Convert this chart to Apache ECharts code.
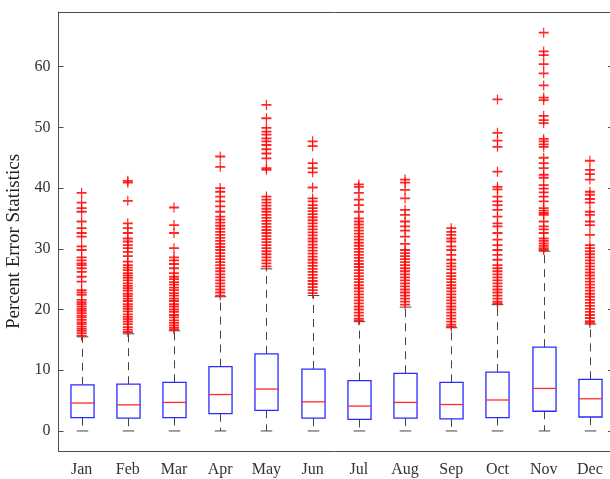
<!DOCTYPE html>
<html>
<head>
<meta charset="utf-8">
<script src="https://cdn.jsdelivr.net/npm/echarts@6/dist/echarts.min.js"></script>
<style>
html,body{margin:0;padding:0;background:#fff;}
#chart{width:610px;height:479px;}
</style>
</head>
<body>
<div id="chart"></div>
<script>
const months = ['Jan','Feb','Mar','Apr','May','Jun','Jul','Aug','Sep','Oct','Nov','Dec'];
const yTicks = [0, 10, 20, 30, 40, 50, 60];

// box statistics per month
const lowerWhisker = [0, 0, 0, 0, 0, 0, 0, 0, 0, 0, 0, 0];
const q1Values     = [2.2, 2.1, 2.2, 2.85, 3.4, 2.1, 1.9, 2.1, 2.0, 2.2, 3.25, 2.3];
const medianValues = [4.6, 4.3, 4.7, 6.0, 6.9, 4.8, 4.1, 4.7, 4.35, 5.1, 7.0, 5.3];
const q3Values     = [7.6, 7.7, 8.0, 10.6, 12.7, 10.2, 8.3, 9.5, 8.0, 9.7, 13.8, 8.5];
const upperWhisker = [15.5, 16.0, 16.5, 22.1, 26.7, 22.3, 18.0, 20.4, 17.0, 20.8, 29.6, 17.6];

// outliers per month
const outJan = [39.2, 37.6, 36.7, 36.1, 34.5, 33.4, 32.6, 32.0, 30.4, 29.8, 28.6, 28.1, 27.6, 27.3, 26.8, 26.2, 25.4, 24.6, 23.2, 22.8, 22.4, 21.6, 21.2, 20.9, 20.5, 20.1, 19.8, 19.4, 19.0, 18.7, 18.3, 17.9, 17.6, 17.2, 16.8, 16.5, 16.1, 15.7];
const outFeb = [41.2, 40.9, 37.9, 34.2, 33.4, 32.6, 31.7, 31.2, 30.6, 30.1, 29.5, 28.8, 27.9, 27.3, 26.9, 26.5, 26.0, 25.6, 25.2, 24.8, 24.3, 23.9, 23.5, 23.1, 22.6, 22.2, 21.8, 21.4, 20.9, 20.5, 20.1, 19.7, 19.2, 18.8, 18.4, 18.0, 17.6, 17.1, 16.7, 16.3];
const outMar = [36.8, 33.9, 32.6, 30.1, 28.6, 28.1, 27.5, 26.8, 26.0, 25.4, 25.0, 24.5, 24.1, 23.6, 23.2, 22.7, 22.3, 21.8, 21.4, 20.9, 20.5, 20.0, 19.6, 19.1, 18.7, 18.2, 17.8, 17.4, 17.0, 16.7];
const outApr = [45.2, 43.5, 40.0, 39.4, 38.6, 37.8, 37.0, 36.1, 35.3, 34.8, 34.3, 33.8, 33.3, 32.8, 32.3, 31.8, 31.3, 30.8, 30.3, 29.8, 29.3, 28.8, 28.3, 27.8, 27.3, 26.8, 26.3, 25.8, 25.3, 24.8, 24.3, 23.8, 23.3, 22.8, 22.3];
const outMay = [53.7, 51.5, 49.9, 49.3, 48.8, 48.2, 47.7, 47.1, 46.4, 45.7, 44.9, 43.3, 43.0, 38.6, 38.1, 37.6, 37.1, 36.6, 36.1, 35.6, 35.1, 34.6, 34.1, 33.6, 33.1, 32.6, 32.1, 31.6, 31.1, 30.6, 30.1, 29.6, 29.1, 28.6, 28.1, 27.6, 27.1];
const outJun = [47.7, 46.9, 44.1, 43.3, 42.6, 40.1, 38.3, 37.8, 37.2, 36.7, 36.2, 35.7, 35.2, 34.7, 34.2, 33.7, 33.2, 32.7, 32.2, 31.7, 31.2, 30.7, 30.2, 29.7, 29.2, 28.7, 28.2, 27.7, 27.2, 26.7, 26.2, 25.7, 25.2, 24.7, 24.2, 23.7, 23.2, 22.7];
const outJul = [40.6, 40.2, 39.2, 38.1, 37.2, 36.1, 35.0, 34.5, 34.0, 33.5, 33.0, 32.5, 32.0, 31.5, 31.0, 30.5, 30.0, 29.5, 29.0, 28.5, 28.0, 27.5, 27.0, 26.5, 26.0, 25.5, 25.0, 24.5, 24.0, 23.5, 23.0, 22.5, 22.0, 21.5, 21.0, 20.5, 20.0, 19.5, 19.0, 18.5, 18.2];
const outAug = [41.4, 40.9, 39.7, 38.3, 36.4, 35.6, 34.5, 33.7, 33.0, 32.0, 30.8, 29.8, 29.3, 28.8, 28.3, 27.8, 27.3, 26.8, 26.3, 25.8, 25.3, 24.8, 24.3, 23.8, 23.3, 22.8, 22.3, 21.8, 21.3, 20.8];
const outSep = [33.4, 32.8, 32.3, 31.7, 31.2, 30.4, 29.8, 29.0, 28.2, 27.6, 27.1, 26.6, 26.0, 25.5, 25.0, 24.5, 24.0, 23.5, 23.0, 22.5, 22.0, 21.5, 21.0, 20.5, 20.0, 19.5, 19.0, 18.5, 18.0, 17.5, 17.2];
const outOct = [54.6, 49.1, 47.8, 46.8, 42.7, 40.2, 39.8, 38.6, 37.8, 37.2, 36.4, 35.3, 34.2, 33.7, 32.6, 31.5, 30.6, 29.8, 29.0, 28.2, 27.3, 26.8, 26.3, 25.8, 25.3, 24.8, 24.3, 23.8, 23.3, 22.8, 22.3, 21.8, 21.3, 21.0];
const outNov = [65.6, 62.5, 61.9, 60.4, 58.9, 56.9, 54.9, 54.5, 51.9, 51.2, 50.7, 48.1, 47.7, 47.2, 46.8, 45.0, 44.1, 43.3, 42.2, 41.7, 40.5, 39.9, 39.3, 38.6, 37.8, 36.7, 36.3, 35.9, 35.6, 34.5, 33.7, 33.2, 32.6, 31.7, 31.3, 30.9, 30.5, 30.1, 29.8];
const outDec = [44.5, 43.0, 42.3, 41.4, 39.4, 38.9, 38.2, 37.6, 36.1, 35.6, 34.5, 33.9, 32.3, 30.6, 30.1, 29.6, 29.1, 28.6, 28.1, 27.6, 27.1, 26.6, 26.1, 25.6, 25.1, 24.6, 24.1, 23.6, 23.1, 22.6, 22.1, 21.6, 21.1, 20.6, 20.1, 19.6, 19.1, 18.6, 18.1, 17.8];
const outliers = [outJan, outFeb, outMar, outApr, outMay, outJun, outJul, outAug, outSep, outOct, outNov, outDec];

const boxData = months.map((m, i) => [i, lowerWhisker[i], q1Values[i], medianValues[i], q3Values[i], upperWhisker[i]]);
const outlierData = [];
outliers.forEach((arr, i) => arr.forEach(v => outlierData.push([i, v])));

const FONT = 'Liberation Serif';
const AXIS_COLOR = '#4d4d4d';
const chart = echarts.init(document.getElementById('chart'), null, {renderer: 'canvas'});

function renderBox(params, api) {
  const x = api.value(0);
  const pMin = api.coord([x, api.value(1)]);
  const pQ1 = api.coord([x, api.value(2)]);
  const pMed = api.coord([x, api.value(3)]);
  const pQ3 = api.coord([x, api.value(4)]);
  const pMax = api.coord([x, api.value(5)]);
  const band = api.size([1, 0])[0];
  const hw = band * 0.25;
  const cw = band * 0.125;
  const cx = Math.round(pMed[0]) + 0.5;
  const whiskerStyle = {stroke: '#444', lineWidth: 1, lineDash: [8, 6]};
  const capStyle = {stroke: '#444', lineWidth: 1};
  return {
    type: 'group',
    children: [
      {type: 'line', shape: {x1: cx, y1: pQ3[1], x2: cx, y2: pMax[1]}, style: whiskerStyle},
      {type: 'line', shape: {x1: cx, y1: pQ1[1], x2: cx, y2: pMin[1]}, style: whiskerStyle},
      {type: 'line', shape: {x1: cx - cw, y1: pMax[1], x2: cx + cw, y2: pMax[1]}, style: capStyle},
      {type: 'line', shape: {x1: cx - cw, y1: pMin[1], x2: cx + cw, y2: pMin[1]}, style: capStyle},
      {type: 'rect', shape: {x: cx - hw, y: pQ3[1], width: hw * 2, height: pQ1[1] - pQ3[1]},
        style: {fill: '#fff', stroke: '#2a2aff', lineWidth: 1.3}},
      {type: 'line', shape: {x1: cx - hw, y1: pMed[1], x2: cx + hw, y2: pMed[1]},
        style: {stroke: '#ff2a2a', lineWidth: 1.3}}
    ]
  };
}

const option = {
  backgroundColor: '#fff',
  animation: false,
  grid: {left: 58.5, top: 12, right: -3, bottom: 28, outerBoundsMode: 'none', containLabel: false},
  xAxis: [
    {
      type: 'category', data: months, position: 'bottom',
      axisLine: {onZero: false, lineStyle: {color: AXIS_COLOR, width: 1}},
      axisTick: {inside: true, alignWithLabel: true, length: 5, lineStyle: {color: AXIS_COLOR}},
      axisLabel: {fontFamily: FONT, fontSize: 16, color: '#333', margin: 11},
      splitLine: {show: false}
    },
    {
      type: 'category', data: months, position: 'top',
      axisLine: {onZero: false, lineStyle: {color: AXIS_COLOR, width: 1}},
      axisTick: {inside: true, alignWithLabel: true, length: 5, lineStyle: {color: AXIS_COLOR}},
      axisLabel: {show: false},
      splitLine: {show: false}
    }
  ],
  yAxis: [
    {
      type: 'value', min: -3.3, max: 69, position: 'left',
      name: 'Percent Error Statistics', nameLocation: 'middle', nameGap: 30,
      nameTextStyle: {fontFamily: FONT, fontSize: 19, color: '#222', padding: [0, 20, 0, 0]},
      axisLine: {show: true, onZero: false, lineStyle: {color: AXIS_COLOR, width: 1}},
      axisTick: {show: true, inside: true, length: 5, customValues: yTicks, lineStyle: {color: AXIS_COLOR}},
      axisLabel: {fontFamily: FONT, fontSize: 16, color: '#333', margin: 8, customValues: yTicks},
      splitLine: {show: false}
    },
    {
      type: 'value', min: -3.3, max: 69, position: 'right',
      axisLine: {show: true, onZero: false, lineStyle: {color: AXIS_COLOR, width: 1}},
      axisTick: {show: true, inside: true, length: 5, customValues: yTicks, lineStyle: {color: AXIS_COLOR}},
      axisLabel: {show: false},
      splitLine: {show: false}
    }
  ],
  series: [
    {
      type: 'custom', xAxisIndex: 0, yAxisIndex: 0,
      renderItem: renderBox, data: boxData,
      encode: {x: 0, y: [1, 2, 3, 4, 5]}, z: 2
    },
    {
      type: 'scatter', xAxisIndex: 0, yAxisIndex: 0,
      data: outlierData,
      symbol: 'path://M0,4.1H10V5.9H0Z M4.4,0H5.6V10H4.4Z',
      symbolSize: 10,
      itemStyle: {color: '#ff0000', opacity: 0.85},
      z: 3, silent: true
    }
  ]
};
chart.setOption(option);
</script>
</body>
</html>
